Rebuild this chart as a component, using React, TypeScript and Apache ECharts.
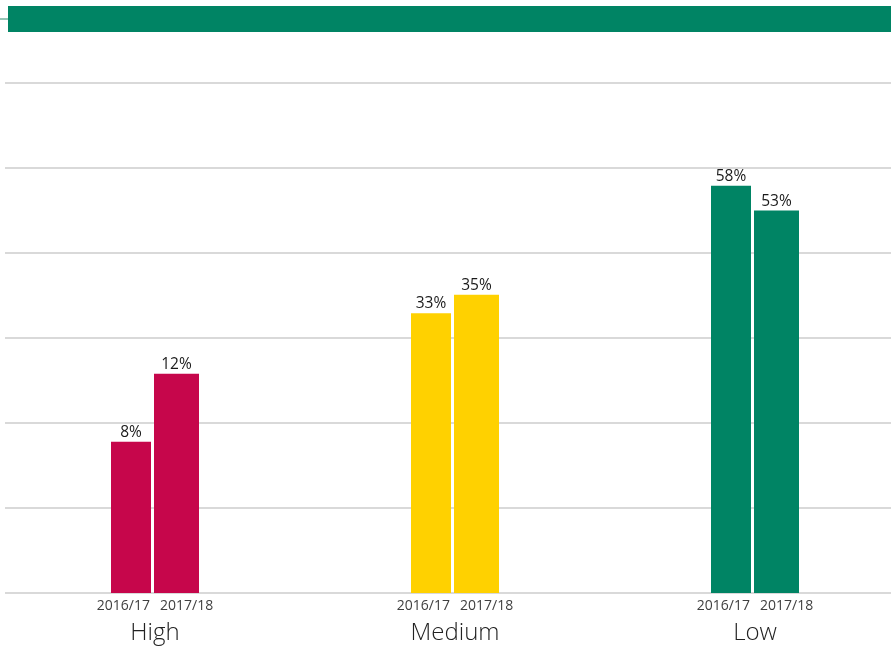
import React, { useEffect, useRef } from "react";
import * as echarts from "echarts";

const categories = ["High", "Medium", "Low"];
const years = ["2016/17", "2017/18"];
// bar heights as drawn, in gridline units (one gridline step = 1)
const heights2016 = [1.78, 3.29, 4.79];
const heights2017 = [2.58, 3.51, 4.5];
// printed percentage labels
const labels2016 = ["8%", "33%", "58%"];
const labels2017 = ["12%", "35%", "53%"];
const colors = ["#C6064B", "#FFD100", "#008464"];

export default function App() {
  const ref = useRef<HTMLDivElement>(null);
  useEffect(() => {
    if (!ref.current) return;
    const chart = echarts.init(ref.current, null, { renderer: "svg" });
    const font = "'Open Sans', 'Noto Sans', sans-serif";
    const mk = (vals: number[], labs: string[], width: number) => ({
      type: "bar",
      barWidth: width,
      barGap: "7.5%",
      data: vals.map((v, i) => ({
        value: v,
        itemStyle: { color: colors[i] },
        label: { formatter: labs[i] },
      })),
      label: {
        show: true,
        position: "top",
        distance: 3,
        fontFamily: font,
        fontSize: 15.5,
        color: "#1a1a1a",
      },
    });
    chart.setOption({
      animation: false,
      grid: { left: 5, width: 900, top: 83, bottom: 53, containLabel: false, outerBoundsMode: "none" },
      xAxis: [
        {
          type: "category",
          data: categories,
          axisLine: { show: false },
          axisTick: { show: false },
          axisLabel: {
            margin: 2,
            interval: 0,
            formatter: () => `{y|${years[0]}}{y|${years[1]}}`,
            rich: {
              y: { fontFamily: font, fontSize: 14, color: "#404040", padding: [0, 5, 0, 5], lineHeight: 18 },
            },
          },
        },
        {
          type: "category",
          position: "bottom",
          data: categories,
          axisLine: { show: false },
          axisTick: { show: false },
          axisLabel: {
            margin: 26,
            interval: 0,
            fontFamily: font,
            fontSize: 24,
            fontWeight: 300,
            color: "#222222",
            lineHeight: 22,
          },
        },
      ],
      yAxis: {
        type: "value",
        min: 0,
        max: 6,
        interval: 1,
        axisLabel: { show: false },
        axisLine: { show: false },
        axisTick: { show: false },
        splitLine: { lineStyle: { color: "#d9d9d9", width: 2 } },
      },
      series: [mk(heights2016, labels2016, 40), mk(heights2017, labels2017, 45)],
      graphic: [
        { type: "rect", shape: { x: 8, y: 6, width: 883, height: 26 }, style: { fill: "#008464" } },
        { type: "line", shape: { x1: 0, y1: 19, x2: 8, y2: 19 }, style: { stroke: "#2a8a6c", lineWidth: 1 } },
      ],
    });
    return () => chart.dispose();
  }, []);
  return (
    <div
      ref={ref}
      style={{ position: "fixed", left: 0, top: 0, width: 891, height: 646 }}
    />
  );
}
